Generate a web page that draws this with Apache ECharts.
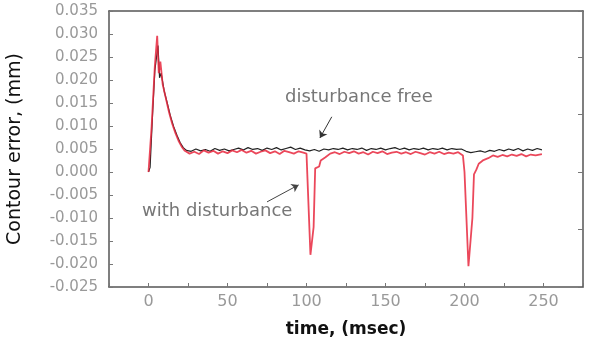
<!DOCTYPE html>
<html>
<head>
<meta charset="utf-8">
<script src="https://cdn.jsdelivr.net/npm/echarts@6/dist/echarts.min.js"></script>
<style>
  html, body { margin: 0; padding: 0; background: #fff; }
  #chart { width: 595px; height: 339px; }
</style>
</head>
<body>
<div id="chart"></div>
<script>
// with disturbance (red)
const redTime = [0, 0.5, 2, 4, 5.5, 6.5, 7.5, 9, 11, 13, 15, 17, 19, 21, 23, 26, 29, 32, 35, 38, 41, 44, 47, 50,
  53, 56, 59, 62, 65, 68, 71, 74, 77, 80, 83, 86, 89, 92, 95, 98, 100, 102.5, 104.5, 105.5, 108, 109, 112, 115,
  118, 121, 124, 127, 130, 133, 136, 139, 142, 145, 148, 151, 154, 157, 160, 163, 166, 169, 172, 175, 178, 181,
  184, 187, 190, 193, 196, 199, 200, 202.5, 205, 206, 207.5, 209, 212, 215, 218, 221, 224, 227, 230, 233, 236,
  239, 242, 245, 249];
const redValue = [0, 0, 0.0100, 0.0230, 0.0296, 0.0215, 0.0240, 0.0190, 0.0160, 0.0130, 0.0105, 0.0085, 0.0068,
  0.0055, 0.0046, 0.0040, 0.0044, 0.0039, 0.0047, 0.0042, 0.0046, 0.0040, 0.0045, 0.0041,
  0.0047, 0.0043, 0.0048, 0.0042, 0.0046, 0.0040, 0.0044, 0.0047, 0.0041, 0.0045, 0.0039, 0.0046, 0.0043, 0.0040,
  0.0045, 0.0042, 0.0040, -0.0180, -0.0120, 0.0008, 0.0012, 0.0025, 0.0032, 0.0040,
  0.0043, 0.0039, 0.0044, 0.0041, 0.0045, 0.0040, 0.0043, 0.0038, 0.0044, 0.0041, 0.0045, 0.0039, 0.0042, 0.0044,
  0.0040, 0.0043, 0.0039, 0.0044, 0.0041, 0.0038, 0.0043, 0.0040,
  0.0044, 0.0039, 0.0042, 0.0040, 0.0043, 0.0036, 0.0000, -0.0205, -0.0100, -0.0005, 0.0005, 0.0018, 0.0026,
  0.0030, 0.0036, 0.0033, 0.0037, 0.0034, 0.0038, 0.0035, 0.0039, 0.0034, 0.0038, 0.0036, 0.0039];

// disturbance free (black)
const blackTime = [0, 1, 2.5, 4, 6, 7, 8, 10, 12, 14, 16, 18, 20, 22, 24, 27, 30, 33, 36, 39, 42, 45, 48, 51, 54,
  57, 60, 63, 66, 69, 72, 75, 78, 81, 84, 87, 90, 93, 96, 99, 102, 105, 108, 111, 114, 117, 120, 123, 126, 129,
  132, 135, 138, 141, 144, 147, 150, 153, 156, 159, 162, 165, 168, 171, 174, 177, 180, 183, 186, 189, 192, 195,
  198, 201, 204, 207, 210, 213, 216, 219, 222, 225, 228, 231, 234, 237, 240, 243, 246, 249];
const blackValue = [0, 0.0010, 0.0120, 0.0220, 0.0275, 0.0205, 0.0215, 0.0175, 0.0148, 0.0120, 0.0098, 0.0080,
  0.0064, 0.0053, 0.0047, 0.0045, 0.0050, 0.0046, 0.0049, 0.0045, 0.0051, 0.0047, 0.0050, 0.0046, 0.0049,
  0.0052, 0.0048, 0.0053, 0.0049, 0.0051, 0.0047, 0.0052, 0.0049, 0.0053, 0.0048, 0.0051, 0.0054, 0.0049, 0.0052,
  0.0048, 0.0046, 0.0049, 0.0045, 0.0050, 0.0048, 0.0051, 0.0049, 0.0052, 0.0048, 0.0051,
  0.0049, 0.0052, 0.0047, 0.0051, 0.0049, 0.0052, 0.0048, 0.0051, 0.0053, 0.0049, 0.0052, 0.0048, 0.0051, 0.0049,
  0.0052, 0.0048, 0.0051, 0.0049, 0.0052, 0.0048, 0.0051, 0.0049,
  0.0050, 0.0045, 0.0042, 0.0044, 0.0046, 0.0043, 0.0047, 0.0045, 0.0049, 0.0046, 0.0050, 0.0047, 0.0051, 0.0046,
  0.0050, 0.0047, 0.0051, 0.0048];

const xTickLabels = ['0', '50', '100', '150', '200', '250'];
const yLabelDigits = 3;

const chart = echarts.init(document.getElementById('chart'), null, { renderer: 'canvas' });

const zip = (t, v) => t.map((x, i) => [x, v[i]]);

const option = {
  backgroundColor: '#fff',
  animation: false,
  grid: { left: 109, right: 12, top: 11, bottom: 52, outerBoundsMode: 'none', containLabel: false },
  xAxis: [{
    type: 'value',
    min: -25,
    max: 275,
    interval: 25,
    name: 'time, (msec)',
    nameLocation: 'middle',
    nameGap: 34,
    nameTextStyle: { fontFamily: 'DejaVu Sans', fontWeight: 'bold', fontSize: 17, color: '#111' },
    axisLine: { onZero: false, lineStyle: { color: '#555', width: 1.5 } },
    axisTick: { inside: true, length: 4, lineStyle: { color: '#777' } },
    axisLabel: {
      margin: 7,
      fontFamily: 'DejaVu Sans',
      fontSize: 16,
      color: '#999',
      formatter: v => (xTickLabels.includes(String(v)) ? String(v) : '')
    },
    splitLine: { show: false }
  }, {
    type: 'value',
    position: 'top',
    min: -25,
    max: 275,
    axisLine: { show: true, onZero: false, lineStyle: { color: '#555', width: 1.5 } },
    axisTick: { show: false },
    axisLabel: { show: false },
    splitLine: { show: false }
  }],
  yAxis: [{
    type: 'value',
    min: -0.025,
    max: 0.035,
    interval: 0.005,
    name: 'Contour error, (mm)',
    nameLocation: 'middle',
    nameGap: 84,
    nameRotate: 90,
    nameTextStyle: { fontFamily: 'DejaVu Sans', fontSize: 19, color: '#111' },
    axisLine: { show: true, onZero: false, lineStyle: { color: '#555', width: 1.5 } },
    axisTick: { inside: true, length: 4, lineStyle: { color: '#777' } },
    axisLabel: {
      margin: 11,
      fontFamily: 'DejaVu Sans',
      fontSize: 15,
      color: '#999',
      formatter: v => v.toFixed(yLabelDigits)
    },
    splitLine: { show: false }
  }, {
    type: 'value',
    position: 'right',
    min: -0.025,
    max: 0.035,
    interval: 0.0125,
    axisLine: { show: true, onZero: false, lineStyle: { color: '#555', width: 1.5 } },
    axisTick: { inside: true, length: 5, lineStyle: { color: '#777' } },
    axisLabel: { show: false },
    splitLine: { show: false }
  }],
  series: [{
    name: 'disturbance free',
    type: 'line',
    data: zip(blackTime, blackValue),
    showSymbol: false,
    z: 2,
    lineStyle: { color: '#222', width: 1.2 },
    markLine: {
      silent: true,
      symbol: ['none', 'arrow'],
      symbolSize: 7,
      label: { show: false },
      lineStyle: { color: '#333', width: 1, type: 'solid' },
      data: [[{ coord: [116, 0.0120] }, { coord: [108.5, 0.0074] }]]
    }
  }, {
    name: 'with disturbance',
    type: 'line',
    data: zip(redTime, redValue),
    showSymbol: false,
    z: 3,
    lineStyle: { color: 'rgba(232,40,62,0.85)', width: 1.8 },
    markLine: {
      silent: true,
      symbol: ['none', 'arrow'],
      symbolSize: 7,
      label: { show: false },
      lineStyle: { color: '#444', width: 1, type: 'solid' },
      data: [[{ coord: [75, -0.0065] }, { coord: [95, -0.0028] }]]
    }
  }],
  graphic: [{
    type: 'text',
    left: 285,
    top: 88,
    style: { text: 'disturbance free', fontFamily: 'DejaVu Sans', fontSize: 18, fill: '#777' }
  }, {
    type: 'text',
    left: 142,
    top: 202,
    style: { text: 'with disturbance', fontFamily: 'DejaVu Sans', fontSize: 18, fill: '#777' }
  }]
};

chart.setOption(option);
</script>
</body>
</html>
